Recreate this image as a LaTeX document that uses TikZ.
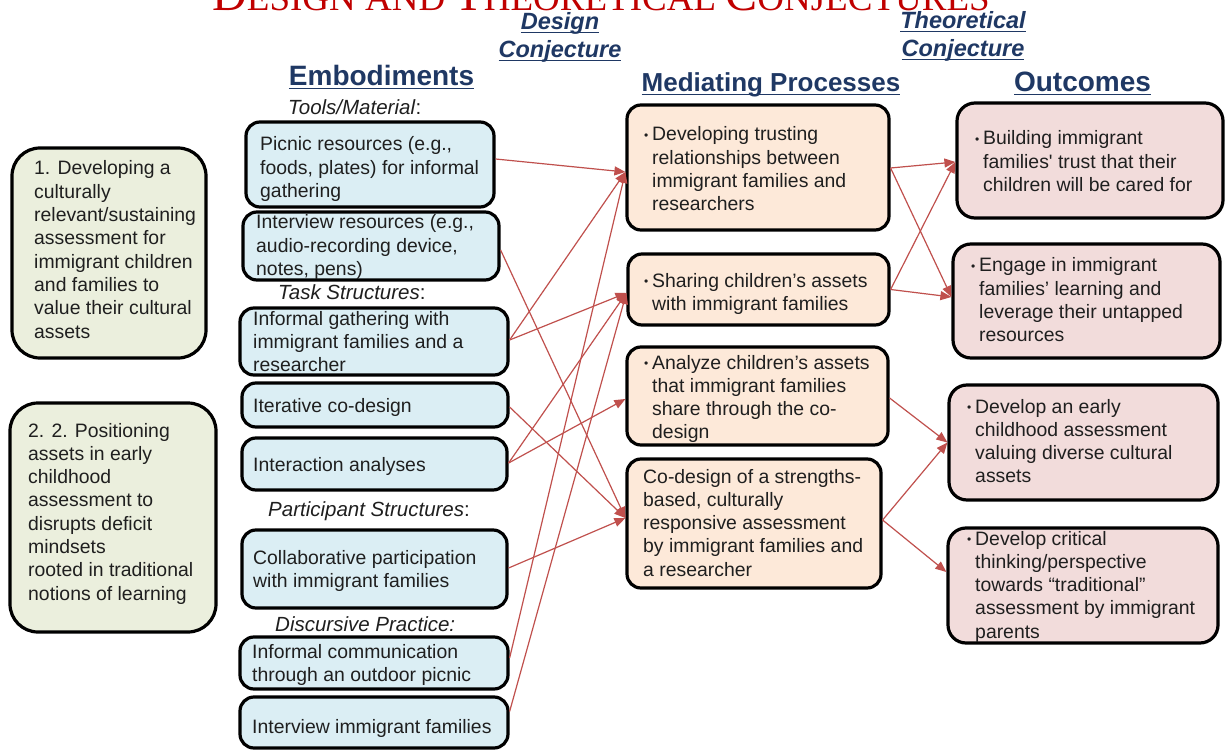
\documentclass[tikz,border=0pt]{standalone}
\usepackage{fontspec}
\setmainfont{Liberation Sans}[Ligatures=TeXOff]
\newfontfamily\titlefont{Liberation Serif}
\usetikzlibrary{arrows.meta,calc,fit}
\definecolor{hdrblue}{HTML}{1F3864}
\definecolor{titlered}{HTML}{C00000}
\definecolor{eblue}{HTML}{DBEEF4}
\definecolor{mpeach}{HTML}{FDE9D9}
\definecolor{opink}{HTML}{F2DCDB}
\definecolor{lgreen}{HTML}{EBEFDD}
\definecolor{arrred}{HTML}{C0504D}
\definecolor{txtcol}{HTML}{1F1F1F}
\newsavebox\ulbox
\newcommand\myul[1]{\sbox\ulbox{#1}\rlap{\rule[-3.5pt]{\wd\ulbox}{1.8pt}}\usebox\ulbox}
\newcommand\mybul{\makebox[8pt][l]{\raisebox{1.5pt}{\fontsize{12}{12}\selectfont •}}}
\newcommand\bind{\hspace*{8pt}}
\newcommand\bigc{\fontsize{48}{50}\selectfont}
\newcommand\smc{\fontsize{37}{40}\selectfont}
\newcommand\mylines[1]{\begin{tabular}[t]{@{}l@{}}#1\end{tabular}}
\newcommand\mycentre[1]{\begin{tabular}[t]{@{}c@{}}#1\end{tabular}}
\tikzset{
  box/.style={draw=black, line width=3.2pt, rounded corners=14pt, inner sep=0pt},
  ebox/.style={box, fill=eblue},
  mbox/.style={box, fill=mpeach},
  obox/.style={box, fill=opink, rounded corners=18pt},
  lbox/.style={box, fill=lgreen, rounded corners=28pt},
  txt/.style={anchor=base west, inner sep=0pt, text=txtcol, font=\fontsize{19.4}{23.3}\selectfont},
  sub/.style={anchor=base west, inner sep=0pt, text=txtcol, font=\fontsize{20.5}{24}\selectfont},
  hdr/.style={anchor=base, inner sep=0pt, text=hdrblue, font=\fontsize{28}{30}\selectfont\bfseries},
  conj/.style={anchor=base, inner sep=0pt, text=hdrblue, font=\fontsize{23.5}{28}\selectfont\bfseries\itshape},
  arr/.style={draw=arrred, line width=1.2pt, -{Triangle[length=11pt,width=9pt]}}
}
\begin{document}
\begin{tikzpicture}[x=1pt,y=-1pt]
\fill[white] (0,0) rectangle (1225,751);
\useasboundingbox (0,0) rectangle (1225,751);

% title (cut at top)
\node[anchor=base, inner sep=0pt, text=titlered, font=\titlefont] (ttl) at (601,11)
  {\bigc D\smc ESIGN AND \bigc T\smc HEORETICAL \bigc C\smc ONJECTURES};

% headers
\node[conj] (dc) at (560,30) {\mycentre{\myul{Design}\\\myul{Conjecture}}};
\node[conj] (tc) at (963,29) {\mycentre{\myul{Theoretical}\\\myul{Conjecture}}};
\node[hdr] (hemb) at (381.5,86) {\myul{Embodiments}};
\node[hdr, font=\fontsize{26}{30}\selectfont\bfseries] (hmed) at (771,92) {\myul{Mediating Processes}};
\node[hdr] (hout) at (1082.5,92) {\myul{Outcomes}};

% left boxes
\node[lbox, fit={(12,148) (206,358)}] (l1) {};
\node[txt] (l1t) at (34,175) {\mylines{1. Developing a\\culturally\\relevant/sustaining\\assessment for\\immigrant children\\and families to\\value their cultural\\assets}};
\node[lbox, fit={(10,403) (216,632)}] (l2) {};
\node[txt] (l2t) at (28,437) {\mylines{2. 2. Positioning\\assets in early\\childhood\\assessment to\\disrupts deficit\\mindsets\\rooted in traditional\\notions of learning}};

% embodiments
\node[sub] (s1) at (288,115) {\textit{Tools/Material}:};
\node[ebox, fit={(246,122) (494,207)}] (e1) {};
\node[txt] (e1t) at (260,151) {\mylines{Picnic resources (e.g.,\\foods, plates) for informal\\gathering}};
\node[ebox, fit={(243,212) (499,280)}] (e2) {};
\node[txt] (e2t) at (256,229) {\mylines{Interview resources (e.g.,\\audio-recording device,\\notes, pens)}};
\node[sub] (s2) at (278,299) {\textit{Task Structures}:};
\node[ebox, fit={(240,308) (508,375)}] (e3) {};
\node[txt] (e3t) at (253,325) {\mylines{Informal gathering with\\immigrant families and a\\researcher}};
\node[ebox, fit={(242,383) (508,427)}] (e4) {};
\node[txt] (e4t) at (253,412) {Iterative co-design};
\node[ebox, fit={(242,438) (507,490)}] (e5) {};
\node[txt] (e5t) at (253,471) {Interaction analyses};
\node[sub] (s3) at (268,516) {\textit{Participant Structures}:};
\node[ebox, fit={(242,530) (507,608)}] (e6) {};
\node[txt] (e6t) at (253,564) {\mylines{Collaborative participation\\with immigrant families}};
\node[sub] (s4) at (275,631) {\textit{Discursive Practice:}};
\node[ebox, fit={(240,637) (508,689)}] (e7) {};
\node[txt] (e7t) at (252,658) {\mylines{Informal communication\\through an outdoor picnic}};
\node[ebox, fit={(240,697) (508,748)}] (e8) {};
\node[txt] (e8t) at (252,733) {Interview immigrant families};

% mediating processes
\node[mbox, fit={(627,105) (889,230)}] (m1) {};
\node[txt] (m1t) at (644,141) {\mylines{\mybul Developing trusting\\\bind relationships between\\\bind immigrant families and\\\bind researchers}};
\node[mbox, fit={(628,254) (889,325)}] (m2) {};
\node[txt] (m2t) at (644,287) {\mylines{\mybul Sharing children’s assets\\\bind with immigrant families}};
\node[mbox, fit={(627,347) (888,445)}] (m3) {};
\node[txt] (m3t) at (644,369) {\mylines{\mybul Analyze children’s assets\\\bind that immigrant families\\\bind share through the co-\\\bind design}};
\node[mbox, fit={(627,459) (881,588)}] (m4) {};
\node[txt] (m4t) at (643,483) {\mylines{Co-design of a strengths-\\based, culturally\\responsive assessment\\by immigrant families and\\a researcher}};

% outcomes
\node[obox, fit={(957,103) (1223,218)}] (o1) {};
\node[txt] (o1t) at (975,145) {\mylines{\mybul Building immigrant\\\bind families' trust that their\\\bind children will be cared for}};
\node[obox, fit={(953,244) (1220,358)}] (o2) {};
\node[txt] (o2t) at (971,272) {\mylines{\mybul Engage in immigrant\\\bind families’ learning and\\\bind leverage their untapped\\\bind resources}};
\node[obox, fit={(949,385) (1218,500)}] (o3) {};
\node[txt] (o3t) at (967,413) {\mylines{\mybul Develop an early\\\bind childhood assessment\\\bind valuing diverse cultural\\\bind assets}};
\node[obox, fit={(948,528) (1218,643)}] (o4) {};
\node[txt] (o4t) at (967,545) {\mylines{\mybul Develop critical\\\bind thinking/perspective\\\bind towards “traditional”\\\bind assessment by immigrant\\\bind parents}};

% connectors: embodiments -> mediating processes
\draw[arr] ($(e1.east)+(0,-5.5)$) -- ($(m1.west)+(0,4.5)$);
\draw[arr] ($(e2.east)+(0,4)$) -- ($(m4.west)+(0,-5.5)$);
\draw[arr] ($(e3.east)+(0,-1.5)$) -- ($(m1.west)+(0,4.5)$);
\draw[arr] ($(e3.east)+(0,-1.5)$) -- ($(m2.west)+(0,3.5)$);
\draw[arr] ($(e4.east)+(0,2)$) -- ($(m4.west)+(0,-5.5)$);
\draw[arr] ($(e5.east)+(0,-1)$) -- ($(m2.west)+(0,3.5)$);
\draw[arr] ($(e5.east)+(0,-1)$) -- ($(m3.west)+(0,3)$);
\draw[arr] ($(e6.east)+(0,-1)$) -- ($(m4.west)+(0,-5.5)$);
\draw[arr] ($(e7.east)+(0,-5)$) -- ($(m1.west)+(0,4.5)$);
\draw[arr] ($(e8.east)+(0,-11)$) -- ($(m2.west)+(0,3.5)$);

% connectors: mediating processes -> outcomes
\draw[arr] ($(m1.east)+(0,0.5)$) -- ($(o1.west)+(0,1.5)$);
\draw[arr] ($(m1.east)+(0,0.5)$) -- ($(o2.west)+(0,-4)$);
\draw[arr] (m2.east) -- ($(o1.west)+(0,1.5)$);
\draw[arr] (m2.east) -- ($(o2.west)+(0,-4)$);
\draw[arr] ($(m3.east)+(0,2)$) -- (o3.west);
\draw[arr] ($(m4.east)+(0,-3.5)$) -- (o3.west);
\draw[arr] ($(m4.east)+(0,-3.5)$) -- ($(o4.west)+(0,-13.5)$);
\end{tikzpicture}
\end{document}
